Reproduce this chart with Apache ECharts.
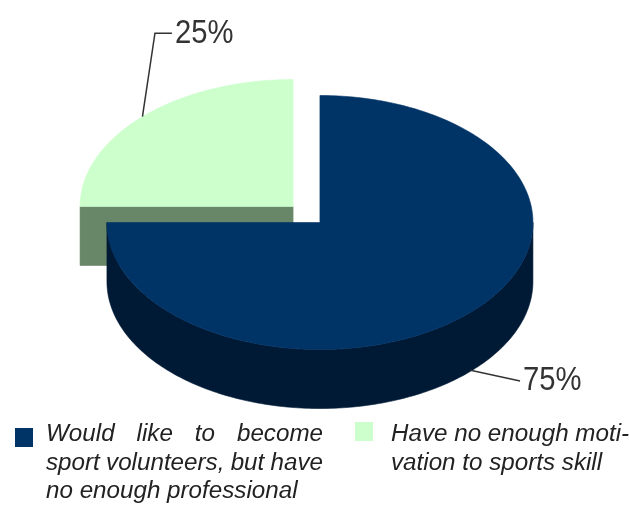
<!DOCTYPE html>
<html>
<head>
<meta charset="utf-8">
<script src="https://cdn.jsdelivr.net/npm/echarts@6/dist/echarts.min.js"></script>
<style>
  html, body { margin: 0; padding: 0; background: #ffffff; }
  #chart { width: 629px; height: 505px; }
</style>
</head>
<body>
<div id="chart"></div>
<script>
// ---- data ----
const categories = [
  'Would like to become sport volunteers, but have no enough professional',
  'Have no enough motivation to sports skill'
];
const values = [75, 25];
const legendLines = [
  ['Would like to become', 'sport volunteers, but have', 'no enough professional'],
  ['Have no enough moti-', 'vation to sports skill']
];

// ---- palette ----
const topColors = ['#003366', '#ccffcc'];
const sideColors = ['#001a35', '#688668'];
const labelColor = '#333333';
const legendTextColor = '#222222';

// ---- 3D pie geometry (pixels) ----
const PIE = { cx: 306.5, cy: 214.5, rx: 213, ry: 127, depth: 59, explode: 19 };
const RAD = Math.PI / 180;

function ellPt(x0, y0, a) {
  return [x0 + PIE.rx * Math.cos(a * RAD), y0 - PIE.ry * Math.sin(a * RAD)];
}
function arc(x0, y0, from, to) {
  const n = Math.max(2, Math.ceil(Math.abs(to - from)));
  const pts = [];
  for (let k = 0; k <= n; k++) pts.push(ellPt(x0, y0, from + (to - from) * k / n));
  return pts;
}

// slice angles: start at 12 o'clock, clockwise
const total = values.reduce((s, v) => s + v, 0);
const slices = [];
let acc = 0;
values.forEach((v) => {
  const a0 = 90 - 360 * acc / total;
  const a1 = a0 - 360 * v / total;
  acc += v;
  const m = (a0 + a1) / 2;
  slices.push({
    a0, a1, m,
    x0: PIE.cx + PIE.explode * Math.cos(m * RAD),
    y0: PIE.cy - PIE.explode * Math.sin(m * RAD) * PIE.ry / PIE.rx
  });
});
// back slices are painted first
const order = slices.map((s, i) => i).sort((a, b) => slices[a].y0 - slices[b].y0);
const zRank = [];
order.forEach((idx, r) => { zRank[idx] = r; });

// leader line bends relative to the anchor, and text gap
const labelLayout = [
  { leg: [[49.5, 10.7]], gap: 3 },
  { leg: [[12.5, -83.5], [29.5, -83.5]], gap: 3 }
];

function renderSlice(params) {
  const i = params.dataIndex;
  const s = slices[i];
  const D = PIE.depth;
  const z = zRank[i] * 10;
  const children = [];
  const sideStyle = { fill: sideColors[i], stroke: sideColors[i], lineWidth: 0.6 };

  // flat cut faces that turn toward the viewer
  const faces = [];
  if (Math.cos(s.a0 * RAD) < -1e-6) faces.push(s.a0);
  if (Math.cos(s.a1 * RAD) > 1e-6) faces.push(s.a1);
  faces.forEach((a) => {
    const e = ellPt(s.x0, s.y0, a);
    children.push({
      type: 'polygon', z2: z,
      shape: { points: [[s.x0, s.y0], e, [e[0], e[1] + D], [s.x0, s.y0 + D]] },
      style: sideStyle
    });
  });

  // curved outer wall on the front half
  for (let k = -2; k <= 1; k++) {
    const lo = Math.max(s.a1, k * 360 - 180);
    const hi = Math.min(s.a0, k * 360);
    if (hi > lo) {
      const topArc = arc(s.x0, s.y0, lo, hi);
      const bottom = topArc.slice().reverse().map((p) => [p[0], p[1] + D]);
      children.push({
        type: 'polygon', z2: z + 1,
        shape: { points: topArc.concat(bottom) },
        style: sideStyle
      });
    }
  }

  // top face
  children.push({
    type: 'polygon', z2: z + 2,
    shape: { points: [[s.x0, s.y0]].concat(arc(s.x0, s.y0, s.a0, s.a1)) },
    style: { fill: topColors[i], stroke: topColors[i], lineWidth: 0.6 }
  });

  // percentage label with leader line
  let anchor = ellPt(s.x0, s.y0, s.m);
  if (Math.sin(s.m * RAD) < 0) anchor = [anchor[0], anchor[1] + D - 1];
  const lay = labelLayout[i];
  const pts = [anchor].concat(lay.leg.map((d) => [anchor[0] + d[0], anchor[1] + d[1]]));
  const end = pts[pts.length - 1];
  children.push({
    type: 'polyline', z2: 50,
    shape: { points: pts },
    style: { stroke: labelColor, lineWidth: 1.5, fill: null }
  });
  const pct = Math.round(values[i] / total * 100) + '%';
  children.push({
    type: 'text', z2: 51,
    x: end[0] + lay.gap, y: end[1], scaleX: 0.86,
    style: {
      text: pct, x: 0, y: 0,
      fontSize: 34, fontFamily: '"Liberation Sans", Arial, sans-serif',
      fill: labelColor, align: 'left', verticalAlign: 'middle'
    }
  });
  return { type: 'group', children };
}

// ---- legend (justified text block like the printed caption) ----
const LEG_FONT_SIZE = 23;
const LEG_SCALE = 1.052;
const LEG_FAMILY = '"Liberation Sans", Arial, sans-serif';
const legendBlocks = [
  { x: 46, width: 277, sq: [15, 428], justify: true },
  { x: 391, width: 236, sq: [355, 422], justify: false }
];
const lineY = [435, 463.5, 492];
const mctx = document.createElement('canvas').getContext('2d');
mctx.font = 'italic ' + LEG_FONT_SIZE + 'px ' + LEG_FAMILY;
function textW(t) { return mctx.measureText(t).width * LEG_SCALE; }

function legendText(t, x, y) {
  return {
    type: 'text', x: x, y: y, scaleX: LEG_SCALE,
    style: {
      text: t, x: 0, y: 0,
      fontSize: LEG_FONT_SIZE, fontStyle: 'italic', fontFamily: LEG_FAMILY,
      fill: legendTextColor, align: 'left', verticalAlign: 'middle'
    }
  };
}

const graphics = [];
legendBlocks.forEach((b, i) => {
  graphics.push({
    type: 'rect', shape: { x: b.sq[0], y: b.sq[1], width: 18, height: 19 },
    style: { fill: topColors[i] }
  });
  const lines = legendLines[i];
  lines.forEach((line, j) => {
    const y = lineY[j];
    const isLast = j === lines.length - 1;
    if (b.justify && !isLast) {
      const words = line.split(' ');
      const ws = words.map(textW);
      const gap = (b.width - ws.reduce((s, w) => s + w, 0)) / (words.length - 1);
      let x = b.x;
      words.forEach((w, k) => {
        graphics.push(legendText(w, x, y));
        x += ws[k] + gap;
      });
    } else {
      graphics.push(legendText(line, b.x, y));
    }
  });
});

const chart = echarts.init(document.getElementById('chart'), null, { renderer: 'canvas' });
chart.setOption({
  animation: false,
  backgroundColor: '#ffffff',
  series: [{
    type: 'custom',
    coordinateSystem: 'none',
    renderItem: renderSlice,
    data: values.map((v, i) => ({ name: categories[i], value: v }))
  }],
  graphic: graphics
});
</script>
</body>
</html>
